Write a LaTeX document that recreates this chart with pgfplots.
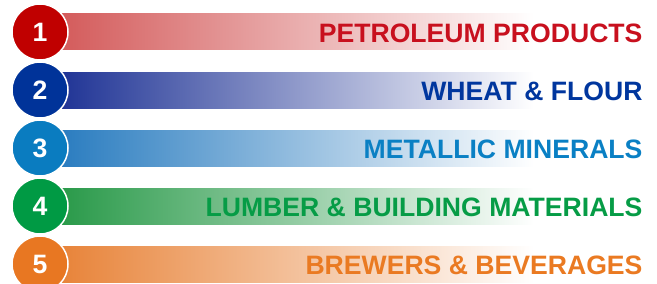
\documentclass[border=0pt]{standalone}
\usepackage{pgfplots}
\pgfplotsset{compat=1.18}
\usepackage{fontspec}
\setmainfont{Liberation Sans}
\definecolor{c1}{HTML}{C00000}
\definecolor{c2}{HTML}{003399}
\definecolor{c3}{HTML}{0A7CC0}
\definecolor{c4}{HTML}{009A44}
\definecolor{c5}{HTML}{E87722}
\definecolor{b1}{HTML}{D45C5C}
\definecolor{b2}{HTML}{213596}
\definecolor{b3}{HTML}{2B7DC0}
\definecolor{b4}{HTML}{2A9A4A}
\definecolor{b5}{HTML}{E8843A}
\definecolor{t1}{HTML}{C8101E}
\definecolor{t2}{HTML}{00369E}
\definecolor{t3}{HTML}{0A80C4}
\definecolor{t4}{HTML}{069C46}
\definecolor{t5}{HTML}{EA7A22}
\begin{document}
\begin{tikzpicture}
\begin{axis}[name=ax, at={(0,0)}, anchor=south west,
  scale only axis, width=657bp, height=284bp,
  xmin=-62, xmax=595, ymin=0, ymax=284, y dir=reverse,
  hide axis, clip=false,
  every node near coord/.append style={font=\bfseries\fontsize{26.6bp}{26.6bp}\selectfont}]
% bars (length of each band, same for all five ranks)
\addplot[xbar, bar width=36, bar shift=0pt, draw=none, left color=b1, right color=white] coordinates {(472,32)};
\addplot[xbar, bar width=36, bar shift=0pt, draw=none, left color=b2, right color=white] coordinates {(472,90)};
\addplot[xbar, bar width=36, bar shift=0pt, draw=none, left color=b3, right color=white] coordinates {(472,148)};
\addplot[xbar, bar width=36, bar shift=0pt, draw=none, left color=b4, right color=white] coordinates {(472,206)};
\addplot[xbar, bar width=36, bar shift=0pt, draw=none, left color=b5, right color=white] coordinates {(472,264)};
% rank circles
\addplot[only marks, mark=*, mark size=28bp, mark options={fill=c1, draw=white, line width=1.5bp},
  point meta=explicit symbolic, nodes near coords, nodes near coords align=center,
  every node near coord/.append style={text=white, anchor=center}] coordinates {(-22,32) [1]};
\addplot[only marks, mark=*, mark size=28bp, mark options={fill=c2, draw=white, line width=1.5bp},
  point meta=explicit symbolic, nodes near coords, nodes near coords align=center,
  every node near coord/.append style={text=white, anchor=center}] coordinates {(-22,90) [2]};
\addplot[only marks, mark=*, mark size=28bp, mark options={fill=c3, draw=white, line width=1.5bp},
  point meta=explicit symbolic, nodes near coords, nodes near coords align=center,
  every node near coord/.append style={text=white, anchor=center}] coordinates {(-22,148) [3]};
\addplot[only marks, mark=*, mark size=28bp, mark options={fill=c4, draw=white, line width=1.5bp},
  point meta=explicit symbolic, nodes near coords, nodes near coords align=center,
  every node near coord/.append style={text=white, anchor=center}] coordinates {(-22,206) [4]};
\addplot[only marks, mark=*, mark size=28bp, mark options={fill=c5, draw=white, line width=1.5bp},
  point meta=explicit symbolic, nodes near coords, nodes near coords align=center,
  every node near coord/.append style={text=white, anchor=center}] coordinates {(-22,264) [5]};
% labels
\addplot[draw=none, no markers, point meta=explicit symbolic, nodes near coords,
  every node near coord/.append style={text=t1, anchor=east}] coordinates {(584,33) [PETROLEUM PRODUCTS]};
\addplot[draw=none, no markers, point meta=explicit symbolic, nodes near coords,
  every node near coord/.append style={text=t2, anchor=east}] coordinates {(584,91) [WHEAT \& FLOUR]};
\addplot[draw=none, no markers, point meta=explicit symbolic, nodes near coords,
  every node near coord/.append style={text=t3, anchor=east}] coordinates {(584,149) [METALLIC MINERALS]};
\addplot[draw=none, no markers, point meta=explicit symbolic, nodes near coords,
  every node near coord/.append style={text=t4, anchor=east}] coordinates {(584,207) [LUMBER \& BUILDING MATERIALS]};
\addplot[draw=none, no markers, point meta=explicit symbolic, nodes near coords,
  every node near coord/.append style={text=t5, anchor=east}] coordinates {(584,265) [BREWERS \& BEVERAGES]};
\end{axis}
\pgfresetboundingbox
\path (ax.south west) rectangle (ax.north east);
\end{tikzpicture}
\end{document}
